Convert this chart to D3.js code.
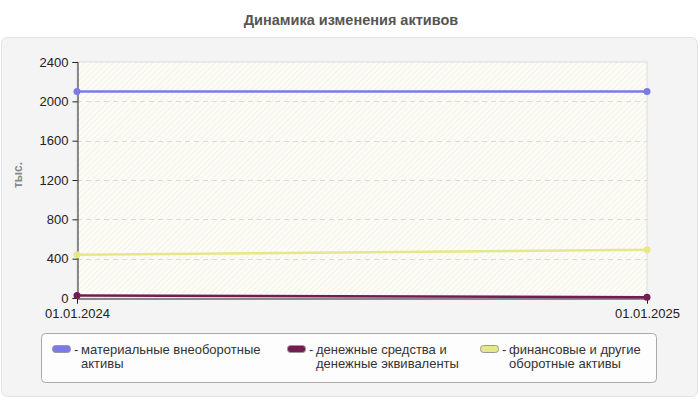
<!DOCTYPE html>
<html>
<head>
<meta charset="utf-8">
<script src="https://cdn.jsdelivr.net/npm/d3@7"></script>
<style>
    body { margin: 0; background: #ffffff; }
    svg { display: block; font-family: "Liberation Sans", Arial, sans-serif; }
</style>
</head>
<body>
<script>
// data
var dates = ["01.01.2024", "01.01.2025"];
var seriesNames = [
    ["материальные внеоборотные", "активы"],
    ["денежные средства и", "денежные эквиваленты"],
    ["финансовые и другие", "оборотные активы"]
];
var fixedAssets = [2100, 2100];
var cashValues = [25, 8];
var financialAssets = [440, 490];
var yTicks = [0, 400, 800, 1200, 1600, 2000, 2400];

var colors = ["#7b7be8", "#741b52", "#e6e68a"];

window.onload = function () {

    var w = 700, h = 400;

    var series = [fixedAssets, cashValues, financialAssets];

    var svg = d3.select("body")
        .append("svg")
        .attr("width", w)
        .attr("height", h);

    //title
    svg.append("text")
        .attr("x", 351)
        .attr("y", 25)
        .attr("text-anchor", "middle")
        .style("font-size", "14.5px")
        .style("font-weight", "bold")
        .style("fill", "#555")
        .text("Динамика изменения активов");

    //grey panel
    svg.append("rect")
        .attr("x", 1.5).attr("y", 37.5)
        .attr("width", 696).attr("height", 359)
        .attr("rx", 6)
        .style("fill", "#f4f4f4")
        .style("stroke", "#e2e2e2");

    //scales
    var x = d3.scalePoint()
        .domain(dates)
        .range([77, 647]);

    var y = d3.scaleLinear()
        .domain([0, 2400])
        .range([298, 62]);

    //hatch pattern for the plot background
    var defs = svg.append("defs");
    var pat = defs.append("pattern")
        .attr("id", "hatch")
        .attr("patternUnits", "userSpaceOnUse")
        .attr("width", 4).attr("height", 4)
        .attr("patternTransform", "rotate(45)");
    pat.append("rect").attr("width", 4).attr("height", 4).style("fill", "#fdfdf6");
    pat.append("line")
        .attr("x1", 0).attr("y1", 0).attr("x2", 0).attr("y2", 4)
        .style("stroke", "#e6e6e6").style("stroke-width", 1);

    svg.append("rect")
        .attr("x", 77).attr("y", 62)
        .attr("width", 570).attr("height", 236)
        .style("fill", "url(#hatch)")
        .style("stroke", "#dcdcdc");

    //grid lines
    svg.append("g")
        .selectAll("line")
        .data(yTicks.filter(function(d) { return d > 0 && d < 2400; }))
        .enter()
        .append("line")
        .attr("x1", 77).attr("x2", 647)
        .attr("y1", function(d) { return Math.round(y(d)) + 0.5; })
        .attr("y2", function(d) { return Math.round(y(d)) + 0.5; })
        .style("stroke", "#dadada")
        .style("stroke-dasharray", "5,4");

    //y axis
    var yAxis = svg.append("g")
        .attr("transform", "translate(77.5,0)")
        .call(d3.axisLeft(y).tickValues(yTicks).tickFormat(d3.format("d")).tickSize(5).tickPadding(4));
    yAxis.selectAll("text").style("font-size", "13px").style("fill", "#222")
        .style("font-family", "'Liberation Sans', Arial, sans-serif");
    yAxis.selectAll("line, path").style("stroke", "#222");

    //x axis
    var xAxis = svg.append("g")
        .attr("transform", "translate(0,298.5)")
        .call(d3.axisBottom(x).tickSize(5).tickPadding(5));
    xAxis.selectAll("text").style("font-size", "13px").style("fill", "#222")
        .style("font-family", "'Liberation Sans', Arial, sans-serif");
    xAxis.selectAll("line, path").style("stroke", "#222");

    //y axis title
    svg.append("text")
        .attr("transform", "translate(22,175) rotate(-90)")
        .attr("text-anchor", "middle")
        .style("font-size", "12px")
        .style("font-weight", "bold")
        .style("fill", "#888")
        .text("тыс.");

    //lines
    var line = d3.line()
        .x(function(d, i) { return x(dates[i]); })
        .y(function(d) { return y(d); });

    series.forEach(function(s, k) {
        svg.append("path")
            .datum(s)
            .attr("d", line)
            .style("fill", "none")
            .style("stroke", colors[k])
            .style("stroke-width", 2.5);

        svg.selectAll(".dot" + k)
            .data(s)
            .enter()
            .append("circle")
            .attr("class", "dot" + k)
            .attr("cx", function(d, i) { return x(dates[i]); })
            .attr("cy", function(d) { return y(d); })
            .attr("r", 3.5)
            .style("fill", colors[k]);
    });

    //legend box
    svg.append("rect")
        .attr("x", 41.5).attr("y", 333.5)
        .attr("width", 615).attr("height", 49)
        .attr("rx", 4)
        .style("fill", "#fdfdfd")
        .style("stroke", "#aaa");

    var legendX = [52, 287, 480];

    var items = svg.selectAll(".legendItem")
        .data(seriesNames)
        .enter()
        .append("g")
        .attr("class", "legendItem")
        .attr("transform", function(d, i) { return "translate(" + legendX[i] + ",0)"; });

    items.append("rect")
        .attr("x", 0.5).attr("y", 345.5)
        .attr("width", 18).attr("height", 7)
        .attr("rx", 3)
        .style("fill", function(d, i) { return colors[i]; })
        .style("stroke", "#999");

    items.append("text")
        .attr("x", 22).attr("y", 354)
        .style("font-size", "13px")
        .style("fill", "#333")
        .text("-");

    var labels = items.append("text")
        .attr("y", 354)
        .style("font-size", "13px")
        .style("fill", "#333");

    labels.append("tspan")
        .attr("x", 29)
        .text(function(d) { return d[0]; });

    labels.append("tspan")
        .attr("x", 29)
        .attr("dy", 14)
        .text(function(d) { return d[1]; });
};
</script>
</body>
</html>
